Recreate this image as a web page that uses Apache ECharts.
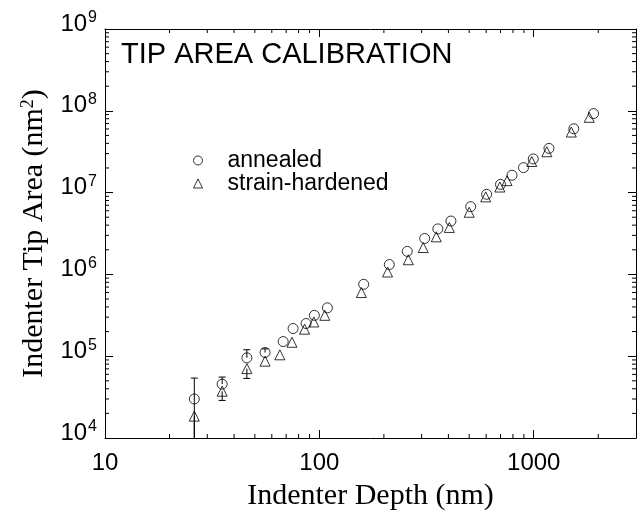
<!DOCTYPE html>
<html>
<head>
<meta charset="utf-8">
<script src="https://cdn.jsdelivr.net/npm/echarts@6/dist/echarts.min.js"></script>
<style>html,body{margin:0;padding:0;background:#fff;}#c{width:639px;height:516px;}</style>
</head>
<body>
<div id="c"></div>
<script>
// ---- data ----
const depthAnnealed = [26.1, 35.2, 45.9, 55.8, 67.8, 75.4, 86.7, 94.8, 109, 161, 212, 257, 310, 357, 411, 508, 603, 700, 792, 896, 995, 1178, 1538, 1901];
const areaAnnealed  = [3.0e4, 4.56e4, 9.55e4, 1.11e5, 1.51e5, 2.18e5, 2.51e5, 3.16e5, 3.9e5, 7.57e5, 1.32e6, 1.91e6, 2.75e6, 3.6e6, 4.49e6, 6.73e6, 9.53e6, 1.26e7, 1.63e7, 2.02e7, 2.58e7, 3.47e7, 6.03e7, 9.25e7];
const errHighAnnealed = [2.4e4, 1.0e4, 2.45e4, 1.2e4];
const errLowAnnealed  = [2.4e4, 0, 0, 0];

const depthHardened = [26.1, 35.2, 45.9, 55.8, 65.4, 74.5, 85.3, 94.2, 106, 157, 208, 260, 305, 351, 404, 500, 597, 695, 751, 979, 1151, 1497, 1816];
const areaHardened  = [1.85e4, 3.73e4, 7.05e4, 8.7e4, 1.04e5, 1.48e5, 2.14e5, 2.62e5, 3.16e5, 6.0e5, 1.07e6, 1.51e6, 2.13e6, 2.88e6, 3.75e6, 5.75e6, 8.87e6, 1.17e7, 1.40e7, 2.40e7, 3.16e7, 5.50e7, 8.32e7];
const errHighHardened = [0, 0, 0, 0];
const errLowHardened  = [1.0e4, 0.85e4, 1.7e4, 0];

const xMin = 10, xMax = 3000;
const yMin = 1e4, yMax = 1e9;
const xMinorTicks = [20,30,40,50,60,70,80,90,200,300,400,500,600,700,800,900,2000];
const yMinorTicks = [];
for (let e = 4; e < 9; e++) for (let m = 2; m <= 9; m++) yMinorTicks.push(m * Math.pow(10, e));

const titleText = 'TIP AREA CALIBRATION';
const xTitle = 'Indenter Depth (nm)';
const yTitle = 'Indenter Tip Area (nm{s|2})';
const seriesNames = ['annealed', 'strain-hardened'];

// ---- build ----
const pairs = (xs, ys) => xs.map((x, i) => [x, ys[i]]);
const errData = (xs, ys, lo, hi) => lo.map((l, i) => [xs[i], ys[i] - l, ys[i] + hi[i], l > 0 ? 1 : 0, hi[i] > 0 ? 1 : 0]);

function errRender(params, api) {
  const x = api.value(0), lo = Math.max(api.value(1), 1), hi = api.value(2);
  const pLo = api.coord([x, lo]), pHi = api.coord([x, hi]);
  const children = [{type: 'line', shape: {x1: pLo[0], y1: pLo[1], x2: pHi[0], y2: pHi[1]}, style: {stroke: '#000', lineWidth: 1}}];
  const cw = 3.5;
  if (api.value(3)) children.push({type: 'line', shape: {x1: pLo[0]-cw, y1: pLo[1], x2: pLo[0]+cw, y2: pLo[1]}, style: {stroke: '#000', lineWidth: 1}});
  if (api.value(4)) children.push({type: 'line', shape: {x1: pHi[0]-cw, y1: pHi[1], x2: pHi[0]+cw, y2: pHi[1]}, style: {stroke: '#000', lineWidth: 1}});
  return {type: 'group', children};
}
function xMinorRender(params, api) {
  const cs = params.coordSys;
  const px = api.coord([api.value(0), yMin])[0];
  const L = 4;
  return {type: 'group', children: [
    {type: 'line', shape: {x1: px, y1: cs.y + cs.height, x2: px, y2: cs.y + cs.height - L}, style: {stroke: '#000', lineWidth: 1}},
    {type: 'line', shape: {x1: px, y1: cs.y, x2: px, y2: cs.y + L}, style: {stroke: '#000', lineWidth: 1}}
  ]};
}
function yMinorRender(params, api) {
  const cs = params.coordSys;
  const py = api.coord([xMin, api.value(1)])[1];
  const L = 4;
  return {type: 'group', children: [
    {type: 'line', shape: {x1: cs.x, y1: py, x2: cs.x + L, y2: py}, style: {stroke: '#000', lineWidth: 1}},
    {type: 'line', shape: {x1: cs.x + cs.width, y1: py, x2: cs.x + cs.width - L, y2: py}, style: {stroke: '#000', lineWidth: 1}}
  ]};
}
const isPow10 = v => Math.abs(Math.log10(v) - Math.round(Math.log10(v))) < 1e-9;

const axisCommon = {
  type: 'log', logBase: 10,
  axisLine: {show: true, lineStyle: {color: '#000', width: 1}},
  axisTick: {show: true, inside: true, length: 8, lineStyle: {color: '#000', width: 1}},
  splitLine: {show: false}, minorTick: {show: false}, minorSplitLine: {show: false}
};
const markerStyle = {color: 'rgba(0,0,0,0)', borderColor: '#000', borderWidth: 1};

const option = {
  animation: false,
  backgroundColor: '#fff',
  title: {text: titleText, left: 121, top: 40, padding: 0,
    textStyle: {fontFamily: 'Liberation Sans', fontSize: 29, fontWeight: 'normal', color: '#000'}},
  legend: {
    orient: 'vertical', left: 188, top: 144, itemWidth: 9, itemHeight: 9, itemGap: 0,
    textStyle: {fontFamily: 'Liberation Sans', fontSize: 23, color: '#000', lineHeight: 22, padding: [0, 0, 0, 20]},
    data: [
      {name: seriesNames[0], icon: 'circle', itemStyle: markerStyle},
      {name: seriesNames[1], icon: 'triangle', itemStyle: markerStyle}
    ]
  },
  grid: {left: 105, top: 29, width: 537, height: 417, containLabel: false},
  xAxis: [
    Object.assign({}, axisCommon, {
      position: 'bottom', min: xMin, max: xMax,
      name: xTitle, nameLocation: 'middle', nameGap: 43,
      nameTextStyle: {fontFamily: 'Liberation Serif', fontSize: 30, color: '#000'},
      axisLabel: {show: true, margin: 13, color: '#000', fontFamily: 'Liberation Sans', fontSize: 24,
        formatter: v => isPow10(v) ? String(Math.round(v)) : ''}
    }),
    Object.assign({}, axisCommon, {position: 'top', min: xMin, max: xMax, axisLabel: {show: false}})
  ],
  yAxis: [
    Object.assign({}, axisCommon, {
      position: 'left', min: yMin, max: yMax,
      name: yTitle, nameLocation: 'middle', nameGap: 42, nameRotate: 90,
      nameTextStyle: {fontFamily: 'Liberation Serif', fontSize: 30, color: '#000',
        rich: {s: {fontFamily: 'Liberation Serif', fontSize: 18, color: '#000', padding: [0, 0, 13, 0]}}},
      axisLabel: {show: true, margin: 8, color: '#000', padding: [0, 0, 10, 0],
        formatter: v => isPow10(v) ? '{b|10}{s|' + Math.round(Math.log10(v)) + '}' : '',
        rich: {
          b: {fontFamily: 'Liberation Sans', fontSize: 24, color: '#000'},
          s: {fontFamily: 'Liberation Sans', fontSize: 16, color: '#000', padding: [0, 0, 12, 1]}
        }}
    }),
    Object.assign({}, axisCommon, {position: 'right', min: yMin, max: yMax, axisLabel: {show: false}})
  ],
  series: [
    {type: 'custom', name: 'xminor', renderItem: xMinorRender, data: xMinorTicks.map(v => [v, yMin]), clip: false, silent: true, z: 1},
    {type: 'custom', name: 'yminor', renderItem: yMinorRender, data: yMinorTicks.map(v => [xMin, v]), clip: false, silent: true, z: 1},
    {type: 'custom', name: 'errA', renderItem: errRender, data: errData(depthAnnealed, areaAnnealed, errLowAnnealed, errHighAnnealed), clip: true, silent: true, z: 2},
    {type: 'custom', name: 'errH', renderItem: errRender, data: errData(depthHardened, areaHardened, errLowHardened, errHighHardened), clip: true, silent: true, z: 2},
    {type: 'scatter', name: seriesNames[0], symbol: 'circle', symbolSize: 10, data: pairs(depthAnnealed, areaAnnealed), itemStyle: markerStyle, z: 3},
    {type: 'scatter', name: seriesNames[1], symbol: 'triangle', symbolSize: 10, data: pairs(depthHardened, areaHardened), itemStyle: markerStyle, z: 3}
  ]
};
const chart = echarts.init(document.getElementById('c'), null, {renderer: 'canvas'});
chart.setOption(option);
</script>
</body>
</html>
